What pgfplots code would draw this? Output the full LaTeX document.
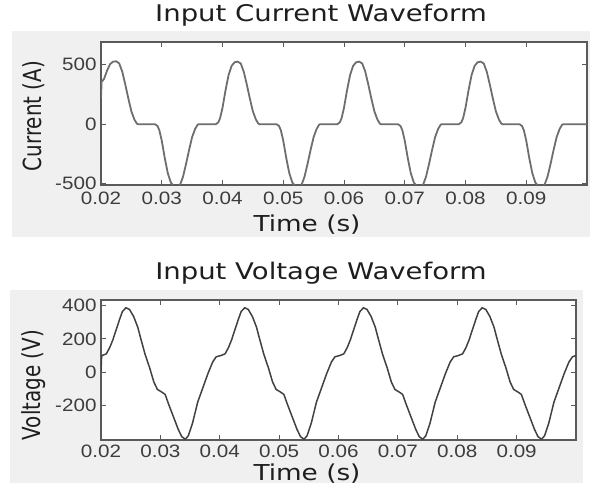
\documentclass[border=0pt]{standalone}
\usepackage{fontspec}
\usepackage{pgfplots}
\pgfplotsset{compat=1.18}
\setmainfont{Liberation Sans}
\newfontfamily\titlefont[FakeStretch=1.2]{DejaVu Sans}
\newfontfamily\ylabfont[FakeStretch=0.8]{DejaVu Sans}
\newfontfamily\tickfont[FakeStretch=1.15]{Liberation Sans}

\definecolor{panelgray}{RGB}{240,240,240}
\definecolor{boxgray}{RGB}{90,90,90}
\definecolor{curgray}{RGB}{110,110,110}
\definecolor{voltgray}{RGB}{65,65,65}
\definecolor{ticktext}{RGB}{60,60,60}
\definecolor{labeltext}{RGB}{30,30,30}

\pgfplotsset{
  wave/.style={
    anchor=south west,
    scale only axis,
    xmin=0.02, xmax=0.1,
    xtick={0.02,0.03,0.04,0.05,0.06,0.07,0.08,0.09},
    xticklabels={0.02,0.03,0.04,0.05,0.06,0.07,0.08,0.09},
    tick align=inside,
    major tick length=5bp,
    axis background/.style={fill=white},
    axis line style={line width=1.3bp, draw=boxgray},
    tick style={line width=1bp, draw=boxgray},
    tick label style={font=\tickfont\fontsize{18}{19}\selectfont, text=ticktext},
    yticklabel style={xshift=-1bp},
  }
}

\begin{document}
\begin{tikzpicture}[x=1bp,y=1bp]
\useasboundingbox (0,0) rectangle (593,494);
\fill[panelgray] (12,257) rectangle (590,463);
\fill[panelgray] (10,11) rectangle (583,204);

% current
\begin{axis}[wave,
  at={(101bp,309bp)}, width=486bp, height=143bp,
  ymin=-510, ymax=690,
  ytick={-500,0,500}, yticklabels={-500,0,500},
  xticklabel style={yshift=-3bp},
]
\addplot [line width=1.8bp, curgray] table {%
0.0200 220
0.0201 355
0.0205 380
0.0210 450
0.0215 505
0.0220 525
0.0225 528
0.0230 510
0.0235 441
0.0240 333
0.0245 216
0.0250 108
0.0255 39
0.0259 5
0.0261 0
0.0289 0
0.0293 -15
0.0296 -50
0.0300 -138
0.0305 -285
0.0310 -412
0.0315 -490
0.0320 -520
0.0325 -525
0.0330 -510
0.0335 -441
0.0340 -333
0.0345 -216
0.0350 -108
0.0355 -39
0.0359 -5
0.0361 0
0.0389 0
0.0393 15
0.0396 50
0.0400 138
0.0405 285
0.0410 412
0.0415 490
0.0420 520
0.0425 525
0.0430 510
0.0435 441
0.0440 333
0.0445 216
0.0450 108
0.0455 39
0.0459 5
0.0461 0
0.0489 0
0.0493 -15
0.0496 -50
0.0500 -138
0.0505 -285
0.0510 -412
0.0515 -490
0.0520 -520
0.0525 -525
0.0530 -510
0.0535 -441
0.0540 -333
0.0545 -216
0.0550 -108
0.0555 -39
0.0559 -5
0.0561 0
0.0589 0
0.0593 15
0.0596 50
0.0600 138
0.0605 285
0.0610 412
0.0615 490
0.0620 520
0.0625 525
0.0630 510
0.0635 441
0.0640 333
0.0645 216
0.0650 108
0.0655 39
0.0659 5
0.0661 0
0.0689 0
0.0693 -15
0.0696 -50
0.0700 -138
0.0705 -285
0.0710 -412
0.0715 -490
0.0720 -520
0.0725 -525
0.0730 -510
0.0735 -441
0.0740 -333
0.0745 -216
0.0750 -108
0.0755 -39
0.0759 -5
0.0761 0
0.0789 0
0.0793 15
0.0796 50
0.0800 138
0.0805 285
0.0810 412
0.0815 490
0.0820 520
0.0825 525
0.0830 510
0.0835 441
0.0840 333
0.0845 216
0.0850 108
0.0855 39
0.0859 5
0.0861 0
0.0889 0
0.0893 -15
0.0896 -50
0.0900 -138
0.0905 -285
0.0910 -412
0.0915 -490
0.0920 -520
0.0925 -525
0.0930 -510
0.0935 -441
0.0940 -333
0.0945 -216
0.0950 -108
0.0955 -39
0.0959 -5
0.0961 0
0.1000 0
};
\end{axis}

% voltage
\begin{axis}[wave,
  at={(101bp,54bp)}, width=475bp, height=140bp,
  ymin=-410, ymax=435,
  ytick={-200,0,200,400}, yticklabels={-200,0,200,400},
  xticklabel style={yshift=-1bp},
]
\addplot [line width=1.5bp, voltgray] table {%
0.0200 0
0.0201 95
0.0202 100
0.0209 110
0.0215 150
0.0220 195
0.0226 260
0.0231 315
0.0236 365
0.0242 388
0.0248 378
0.0255 335
0.0262 270
0.0266 215
0.0274 110
0.0282 25
0.0289 -60
0.0295 -105
0.0302 -120
0.0308 -135
0.0314 -195
0.0322 -270
0.0330 -345
0.0336 -390
0.0342 -405
0.0347 -385
0.0354 -310
0.0363 -180
0.0372 -90
0.0380 -10
0.0388 60
0.0394 92
0.0402 100
0.0409 110
0.0415 150
0.0420 195
0.0426 260
0.0431 315
0.0436 365
0.0442 388
0.0448 378
0.0455 335
0.0462 270
0.0466 215
0.0474 110
0.0482 25
0.0489 -60
0.0495 -105
0.0502 -120
0.0508 -135
0.0514 -195
0.0522 -270
0.0530 -345
0.0536 -390
0.0542 -405
0.0547 -385
0.0554 -310
0.0563 -180
0.0572 -90
0.0580 -10
0.0588 60
0.0594 92
0.0602 100
0.0609 110
0.0615 150
0.0620 195
0.0626 260
0.0631 315
0.0636 365
0.0642 388
0.0648 378
0.0655 335
0.0662 270
0.0666 215
0.0674 110
0.0682 25
0.0689 -60
0.0695 -105
0.0702 -120
0.0708 -135
0.0714 -195
0.0722 -270
0.0730 -345
0.0736 -390
0.0742 -405
0.0747 -385
0.0754 -310
0.0763 -180
0.0772 -90
0.0780 -10
0.0788 60
0.0794 92
0.0802 100
0.0809 110
0.0815 150
0.0820 195
0.0826 260
0.0831 315
0.0836 365
0.0842 388
0.0848 378
0.0855 335
0.0862 270
0.0866 215
0.0874 110
0.0882 25
0.0889 -60
0.0895 -105
0.0902 -120
0.0908 -135
0.0914 -195
0.0922 -270
0.0930 -345
0.0936 -390
0.0942 -405
0.0947 -385
0.0954 -310
0.0963 -180
0.0972 -90
0.0980 -10
0.0988 60
0.0994 92
0.1000 100
};
\end{axis}

% titles and labels
\node[anchor=base, font=\titlefont\fontsize{23}{26}\selectfont, text=labeltext] at (321,472) {Input Current Waveform};
\node[anchor=base, font=\titlefont\fontsize{23}{26}\selectfont, text=labeltext] at (321,214) {Input Voltage Waveform};
\node[anchor=base, font=\titlefont\fontsize{22}{24}\selectfont, text=labeltext] at (307,262) {Time (s)};
\node[anchor=base, font=\titlefont\fontsize{22}{24}\selectfont, text=labeltext] at (307,13) {Time (s)};
\node[anchor=base, rotate=90, font=\ylabfont\fontsize{25}{28}\selectfont, text=labeltext] at (41,378) {Current (A)};
\node[anchor=base, rotate=90, font=\ylabfont\fontsize{25}{28}\selectfont, text=labeltext] at (40,109) {Voltage (V)};
\end{tikzpicture}
\end{document}
